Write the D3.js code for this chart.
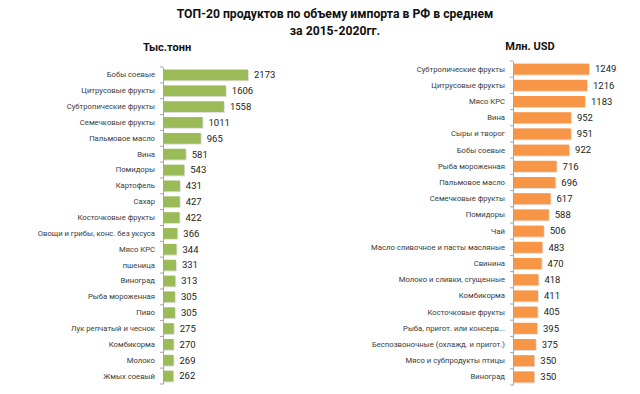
<!DOCTYPE html>
<html>
<head>
<meta charset="utf-8">
<script src="https://d3js.org/d3.v7.min.js"></script>
<style>
  body { margin: 0; background: #fff; }
  text { font-family: Roboto, "Noto Sans", sans-serif; }
</style>
</head>
<body>
<div id="chart"></div>
<script>
// data
var tonsCats = ["Бобы соевые", "Цитрусовые фрукты", "Субтропические фрукты", "Семечковые фрукты",
  "Пальмовое масло", "Вина", "Помидоры", "Картофель", "Сахар", "Косточковые фрукты",
  "Овощи и грибы, конс. без уксуса", "Мясо КРС", "пшеница", "Виноград", "Рыба мороженная",
  "Пиво", "Лук репчатый и чеснок", "Комбикорма", "Молоко", "Жмых соевый"];
var tonsVals = [2173, 1606, 1558, 1011, 965, 581, 543, 431, 427, 422,
  366, 344, 331, 313, 305, 305, 275, 270, 269, 262];

var usdCats = ["Субтропические фрукты", "Цитрусовые фрукты", "Мясо КРС", "Вина", "Сыры и творог",
  "Бобы соевые", "Рыба мороженная", "Пальмовое масло", "Семечковые фрукты", "Помидоры", "Чай",
  "Масло сливочное и пасты масляные", "Свинина", "Молоко и сливки, сгущенные", "Комбикорма",
  "Косточковые фрукты", "Рыба, пригот. или консерв...", "Беспозвоночные (охлажд. и пригот.)",
  "Мясо и субпродукты птицы", "Виноград"];
var usdVals = [1249, 1216, 1183, 952, 951, 922, 716, 696, 617, 588, 506,
  483, 470, 418, 411, 405, 395, 375, 350, 350];

var W = 640, H = 394;

var svg = d3.select("#chart")
  .append("svg")
    .attr("width", W)
    .attr("height", H);

// title
var title = svg.append("text")
  .attr("text-anchor", "middle")
  .attr("font-weight", "bold")
  .attr("font-size", 12.2)
  .attr("fill", "#111");
title.append("tspan").attr("x", 335).attr("y", 18).text("ТОП-20 продуктов по объему импорта в РФ в среднем");
title.append("tspan").attr("x", 335).attr("y", 35).text("за 2015-2020гг.");

function panel(cats, vals, opt) {
  var g = svg.append("g");

  var y = d3.scaleBand()
    .domain(cats)
    .range([opt.top, opt.bottom])
    .paddingInner(0.32)
    .paddingOuter(0.16);

  var x = d3.scaleLinear()
    .domain([0, opt.max])
    .range([opt.left, opt.left + opt.width]);

  // subtitle
  g.append("text")
    .attr("x", opt.subX)
    .attr("y", opt.subY)
    .attr("text-anchor", "middle")
    .attr("font-weight", "bold")
    .attr("font-size", 11)
    .attr("fill", "#111")
    .text(opt.subtitle);

  // bar shadows
  g.selectAll(".shadow")
    .data(vals)
    .enter()
    .append("rect")
      .attr("x", x(0) + 1)
      .attr("y", function (d, i) { return y(cats[i]) + 1; })
      .attr("width", function (d) { return x(d) - x(0); })
      .attr("height", y.bandwidth())
      .attr("fill", "#000")
      .attr("opacity", 0.12);

  // bars
  g.selectAll(".bar")
    .data(vals)
    .enter()
    .append("rect")
      .attr("x", x(0))
      .attr("y", function (d, i) { return y(cats[i]); })
      .attr("width", function (d) { return x(d) - x(0); })
      .attr("height", y.bandwidth())
      .attr("fill", opt.color);

  // value labels
  g.selectAll(".val")
    .data(vals)
    .enter()
    .append("text")
      .attr("x", function (d) { return x(d) + 6; })
      .attr("y", function (d, i) { return y(cats[i]) + y.bandwidth() / 2; })
      .attr("dy", "0.35em")
      .attr("font-size", 9.5)
      .attr("fill", "#222")
      .text(function (d) { return d; });

  // category axis
  var axis = g.append("g")
    .attr("transform", "translate(" + x(0) + ",0)")
    .call(d3.axisLeft(y).tickSize(0).tickPadding(8));
  axis.select(".domain").attr("stroke", "#a6a6a6");
  axis.selectAll("text")
    .attr("font-size", 7.7)
    .attr("fill", "#3a3a3a")
    .style("font-family", "Roboto, 'Noto Sans', sans-serif");

  // tick marks between categories
  var idx = d3.scaleLinear().domain([0, cats.length]).range([opt.top, opt.bottom]);
  g.selectAll(".tk")
    .data(d3.range(cats.length + 1))
    .enter()
    .append("line")
      .attr("x1", x(0) - 3)
      .attr("x2", x(0))
      .attr("y1", function (d) { return idx(d); })
      .attr("y2", function (d) { return idx(d); })
      .attr("stroke", "#a6a6a6");
}

panel(tonsCats, tonsVals, {
  top: 67, bottom: 384, left: 163, width: 85, max: 2173,
  color: "#9bbb59", subtitle: "Тыс.тонн", subX: 167, subY: 51
});

panel(usdCats, usdVals, {
  top: 61, bottom: 385, left: 513, width: 76, max: 1249,
  color: "#f79646", subtitle: "Млн. USD", subX: 530, subY: 50
});
</script>
</body>
</html>
